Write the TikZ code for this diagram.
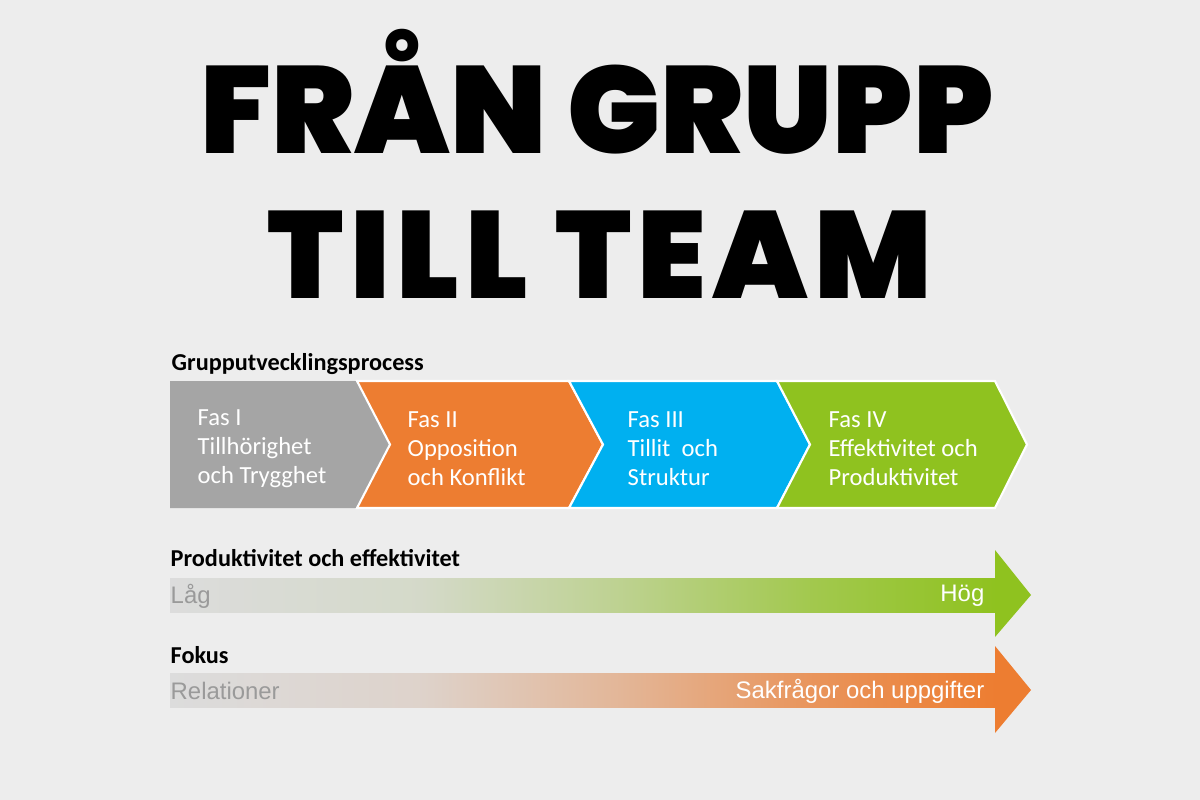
\documentclass[tikz,border=0pt]{standalone}
\usepackage{fontspec}
\setmainfont{Carlito}
\newfontfamily\titlefont{Poppins Black}
\newfontfamily\arialfont{Liberation Sans}
\usepackage{tikz}
\usetikzlibrary{positioning}

\definecolor{bggray}{HTML}{EDEDED}
\definecolor{fasgray}{HTML}{A5A5A5}
\definecolor{fasorange}{HTML}{ED7D31}
\definecolor{fasblue}{HTML}{00B0F0}
\definecolor{fasgreen}{HTML}{8FC21F}
\definecolor{barstart}{HTML}{DCDCDC}
\definecolor{lowtext}{HTML}{9A9A9A}

\begin{document}
\begin{tikzpicture}[x=0.01cm, y=-0.01cm,
   fas/.style={draw=white, line width=0.6pt},
   fastext/.style={anchor=west, align=left, text=white, inner sep=0pt, font=\fontsize{7}{8.2}\selectfont},
   header/.style={anchor=west, inner sep=0pt, font=\bfseries\fontsize{6.9}{8}\selectfont},
   bartext/.style={inner sep=0pt, font=\arialfont\fontsize{6.8}{8}\selectfont},
   title/.style={anchor=base, inner sep=0pt, font=\titlefont\fontsize{35.2}{36}\selectfont}]

 % background
 \fill [bggray] (0,0) rectangle (1200,800);
 \useasboundingbox (0,0) rectangle (1200,800);

 % title
 \node [title] (title_1) at (597,153) {FRÅN GRUPP};
 \node [title] (title_2) at (600,298) {\addfontfeature{LetterSpace=5}TILL TEAM};

 % phases
 \node [header] (process) at (171,364) {Grupputvecklingsprocess};

 \fill [fasgray] (170,381) -- (357,381) -- (390,444.5) -- (357,508) -- (170,508) -- cycle;
 \path [fas, fill=fasorange] (357,381) -- (569,381) -- (603,444.5) -- (569,508) -- (357,508) -- (390,444.5) -- cycle;
 \path [fas, fill=fasblue] (569,381) -- (777,381) -- (810,444.5) -- (777,508) -- (569,508) -- (603,444.5) -- cycle;
 \path [fas, fill=fasgreen] (777,381) -- (995,381) -- (1027,444.5) -- (995,508) -- (777,508) -- (810,444.5) -- cycle;

 \node [fastext] (fas_1) at (197,449) {Fas I\\Tillhörighet\\och Trygghet};
 \node [fastext] (fas_2) at (407,449) {Fas II\\Opposition\\och Konflikt};
 \node [fastext] (fas_3) at (627,449) {Fas III\\Tillit~ och\\Struktur};
 \node [fastext] (fas_4) at (828,449) {Fas IV\\Effektivitet och\\Produktivitet};

 % productivity
 \node [header] (prod) at (170,558) {Produktivitet och effektivitet};
 \shade [left color=barstart, right color=fasgreen!10!barstart] (170,578) rectangle (421,612);
 \shade [left color=fasgreen!10!barstart, right color=fasgreen!40!barstart] (420,578) rectangle (621,612);
 \shade [left color=fasgreen!40!barstart, right color=fasgreen!75!barstart] (620,578) rectangle (811,612);
 \shade [left color=fasgreen!75!barstart, right color=fasgreen] (810,578) rectangle (996,612);
 \fill [fasgreen] (995,550) -- (1031,595) -- (995,637) -- cycle;
 \node [bartext, anchor=west, text=lowtext] (prod_low) at (170,596) {Låg};
 \node [bartext, anchor=east, text=white] (prod_high) at (985,596) {Hög};

 % focus
 \node [header] (fokus) at (170,655) {Fokus};
 \shade [left color=barstart, right color=fasorange!10!barstart] (170,673) rectangle (421,707);
 \shade [left color=fasorange!10!barstart, right color=fasorange!40!barstart] (420,673) rectangle (621,707);
 \shade [left color=fasorange!40!barstart, right color=fasorange!75!barstart] (620,673) rectangle (811,707);
 \shade [left color=fasorange!75!barstart, right color=fasorange] (810,673) rectangle (996,707);
 \fill [fasorange] (995,646) -- (1031,690) -- (995,733) -- cycle;
 \node [bartext, anchor=west, text=lowtext] (fokus_low) at (170,691) {Relationer};
 \node [bartext, anchor=east, text=white] (fokus_high) at (985,691) {Sakfrågor och uppgifter};

\end{tikzpicture}
\end{document}
